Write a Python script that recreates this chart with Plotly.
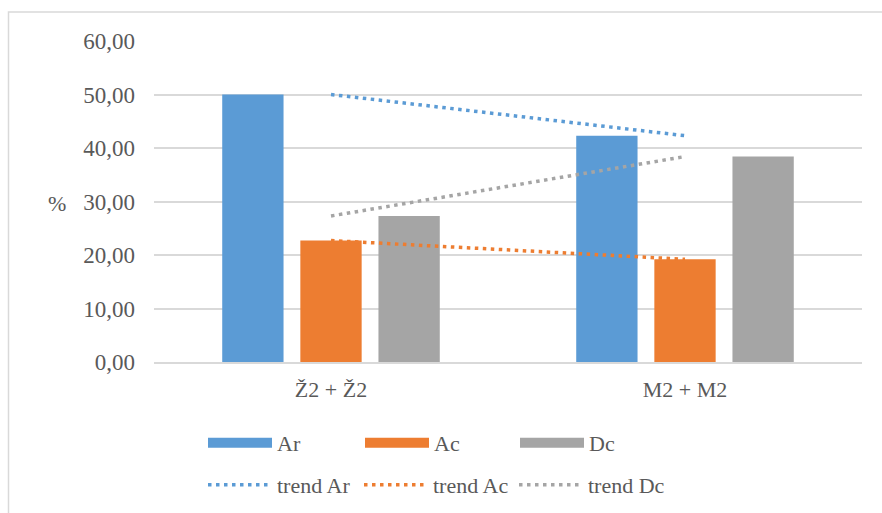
import numpy as np
import plotly.graph_objects as go

categories = ["Ž2 + Ž2", "M2 + M2"]
series_names = ["Ar", "Ac", "Dc"]
ar_values = [50.0, 42.3]
ac_values = [22.7, 19.2]
dc_values = [27.3, 38.4]
y_ticks = [0, 10, 20, 30, 40, 50, 60]
y_tick_labels = ["0,00", "10,00", "20,00", "30,00", "40,00", "50,00", "60,00"]

colors = ["#5B9BD5", "#ED7D31", "#A5A5A5"]
FONT = "Liberation Serif, Times New Roman, serif"
TXT = "#595959"

W, H = 882, 513
L, R, T, B = 154, 20, 41, 151
pw, ph = W - L - R, H - T - B

def px_x(p):
    return (p - L) / pw

def px_y(p):
    return (H - B - p) / ph

fig = go.Figure()
all_values = [ar_values, ac_values, dc_values]
bar_legends = ["legend", "legend2", "legend3"]
trend_legends = ["legend4", "legend5", "legend6"]

for name, vals, c, lg in zip(series_names, all_values, colors, bar_legends):
    fig.add_trace(go.Bar(x=categories, y=vals, name=name, marker_color=c,
                         marker_line_width=0, legendgroup=name, showlegend=False))
    # legend entry drawn as a wide swatch (Excel style)
    fig.add_trace(go.Scatter(x=[categories[0]], y=[None], mode="lines", name=name,
                             line=dict(color=c, width=11), legendgroup=name,
                             legend=lg, hoverinfo="skip"))

xi = np.arange(len(categories))
for name, vals, c, lg in zip(series_names, all_values, colors, trend_legends):
    k, b = np.polyfit(xi, vals, 1)
    trend = k * xi + b
    fig.add_trace(go.Scatter(x=categories, y=trend, mode="lines", name="trend " + name,
                             line=dict(color=c, width=3.5, dash="3.5px,4.5px"),
                             legend=lg))

def leg(xpix, ypix):
    return dict(xref="container", yref="container", x=xpix / W, y=1 - ypix / H,
                xanchor="left", yanchor="middle", orientation="v", itemwidth=64,
                borderwidth=0, bgcolor="rgba(0,0,0,0)",
                font=dict(family=FONT, size=22, color=TXT))

fig.update_layout(
    width=W, height=H,
    margin=dict(l=L, r=R, t=T, b=B, autoexpand=False),
    paper_bgcolor="white", plot_bgcolor="white",
    font=dict(family=FONT, size=22, color=TXT),
    barmode="group", bargap=0.338, bargroupgap=0.215,
    showlegend=True,
    legend=leg(203, 443), legend2=leg(360, 443), legend3=leg(515, 443),
    legend4=leg(203, 485), legend5=leg(359, 485), legend6=leg(514, 485),
    xaxis=dict(showgrid=False, showline=True, linecolor="#D9D9D9", linewidth=1.5,
               ticks="", ticklabelstandoff=7,
               tickfont=dict(family=FONT, size=22, color=TXT)),
    yaxis=dict(range=[0, 60], tickvals=y_ticks, ticktext=y_tick_labels,
               showgrid=True, gridcolor="#D9D9D9", gridwidth=1.5,
               zeroline=False, showline=False, ticks="", ticklabelstandoff=18,
               tickfont=dict(family=FONT, size=23, color=TXT)),
    shapes=[dict(type="rect", xref="paper", yref="paper",
                 x0=px_x(8.5), x1=px_x(900), y0=px_y(530), y1=px_y(12),
                 line=dict(color="#D9D9D9", width=1.5), fillcolor="rgba(0,0,0,0)",
                 layer="below")],
    annotations=[dict(text="%", xref="paper", yref="paper", x=px_x(57), y=px_y(204),
                      xanchor="center", yanchor="middle", showarrow=False,
                      font=dict(family=FONT, size=22, color=TXT))],
)

fig.write_html("out.html")
